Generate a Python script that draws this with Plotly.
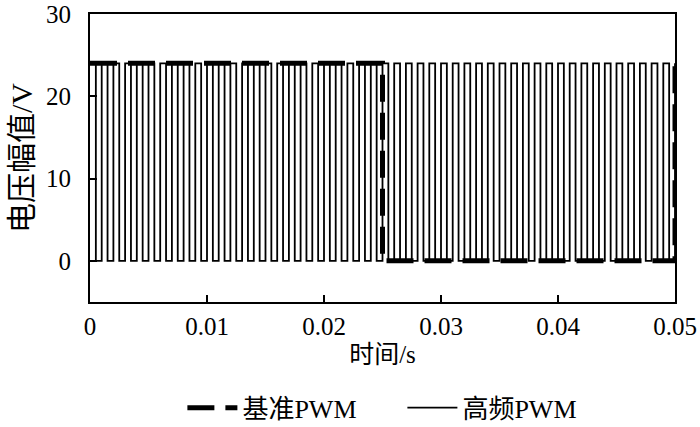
import plotly.graph_objects as go

# reference PWM (base): high for first half, low for second half, back up at the end
base_t = [0, 0.025, 0.05]
base_v = [24, 0, 24]

# high frequency PWM: switching instants (ms) and levels
hf_t_ms = [0, 0.5, 1, 1.5, 2, 2.5, 3, 3.5, 4, 4.5, 5, 5.5, 6, 6.5, 7, 7.5, 8, 8.5, 9, 9.5,
           10, 10.5, 11, 11.5, 12, 12.5, 13, 13.5, 14, 14.5, 15, 15.5, 16, 16.5, 17, 17.5,
           18, 18.5, 19, 19.5, 20, 20.5, 21, 21.5, 22, 22.5, 23, 23.5, 24, 24.5, 25, 25.5,
           26, 26.5, 27, 27.5, 28, 28.5, 29, 29.5, 30, 30.5, 31, 31.5, 32, 32.5, 33, 33.5,
           34, 34.5, 35, 35.5, 36, 36.5, 37, 37.5, 38, 38.5, 39, 39.5, 40, 40.5, 41, 41.5,
           42, 42.5, 43, 43.5, 44, 44.5, 45, 45.5, 46, 46.5, 47, 47.5, 48, 48.5, 49, 49.5, 50]
hf_levels = [24, 0]

x_ticks = [0, 0.01, 0.02, 0.03, 0.04, 0.05]
x_tick_labels = ["0", "0.01", "0.02", "0.03", "0.04", "0.05"]
y_ticks = [0, 10, 20, 30]

hf_t = [t / 1000 for t in hf_t_ms]
hf_v = [hf_levels[i % 2] for i in range(len(hf_t))]

serif = "Liberation Serif, Noto Sans CJK SC"
tick_font = dict(family="Liberation Serif", size=25, color="black")

fig = go.Figure()

fig.add_trace(go.Scatter(
    x=hf_t, y=hf_v,
    mode="lines",
    line=dict(color="black", width=1.8, shape="hv"),
    name="高频PWM",
    legendrank=2
))

fig.add_trace(go.Scatter(
    x=base_t, y=base_v,
    mode="lines",
    line=dict(color="black", width=5, shape="hv", dash="27px,11px"),
    name="基准PWM",
    legendrank=1
))

fig.update_layout(
    width=700, height=427,
    plot_bgcolor="white",
    paper_bgcolor="white",
    font=dict(family=serif, size=25, color="black"),
    margin=dict(l=90, r=25, t=14, b=125, autoexpand=False),
    showlegend=True,
    legend=dict(
        orientation="h",
        x=0.534, xanchor="center",
        yref="container",
        y=0.1, yanchor="top",
        font=dict(family=serif, size=26),
        itemwidth=50,
        entrywidth=155,
        traceorder="normal",
        bgcolor="rgba(0,0,0,0)"
    ),
    xaxis=dict(
        range=[0, 0.05],
        tickvals=x_ticks,
        ticktext=x_tick_labels,
        tickfont=tick_font,
        ticks="inside",
        ticklen=7,
        tickwidth=1.5,
        tickcolor="black",
        showline=True,
        linecolor="black",
        linewidth=2,
        mirror=True,
        showgrid=False,
        zeroline=False,
        automargin=False,
        ticklabelstandoff=1,
        title=dict(text="时间/s", standoff=6, font=dict(family=serif, size=25))
    ),
    yaxis=dict(
        range=[-5, 30],
        tickvals=y_ticks,
        tickfont=tick_font,
        ticks="inside",
        ticklen=7,
        tickwidth=1.5,
        tickcolor="black",
        showline=True,
        linecolor="black",
        linewidth=2,
        mirror=True,
        showgrid=False,
        zeroline=False,
        automargin=False,
        ticklabelstandoff=12,
        title=dict(text="电压幅值/V", standoff=5, font=dict(family=serif, size=30))
    )
)

# drop the browser's default body margin so the figure sits at the page corner
fig.write_html("out.html", config={"displayModeBar": False},
               post_script="document.body.style.margin='0';")
